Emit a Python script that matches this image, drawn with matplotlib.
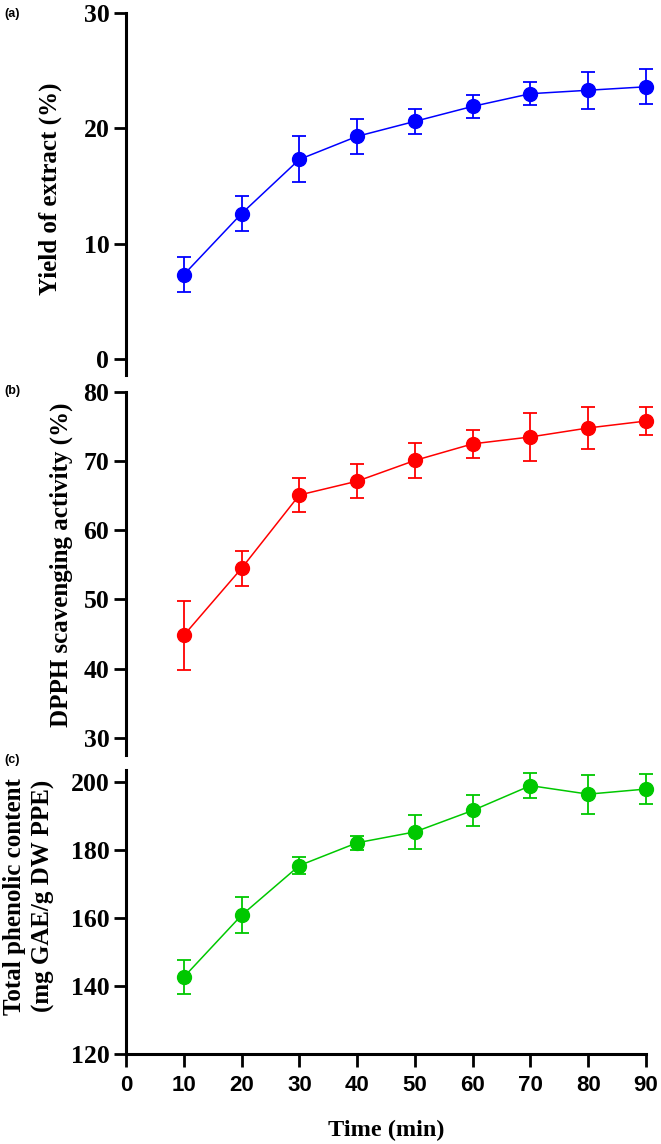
import matplotlib
matplotlib.use("Agg")
import matplotlib.pyplot as plt
import numpy as np

# extraction time (min)
time_min = [10, 20, 30, 40, 50, 60, 70, 80, 90]

# (a) yield of extract (%)
yield_mean = [7.3, 12.6, 17.3, 19.3, 20.6, 21.9, 23.0, 23.3, 23.6]
yield_err = [1.5, 1.5, 2.0, 1.5, 1.1, 1.0, 1.0, 1.6, 1.5]

# (b) DPPH scavenging activity (%)
dpph_mean = [44.8, 54.5, 65.1, 67.1, 70.1, 72.5, 73.5, 74.8, 75.8]
dpph_err = [5.0, 2.5, 2.5, 2.5, 2.5, 2.0, 3.5, 3.0, 2.0]

# (c) total phenolic content (mg GAE/g DW PPE)
tpc_mean = [142.6, 160.8, 175.4, 182.1, 185.3, 191.6, 198.9, 196.4, 197.9]
tpc_err = [5.0, 5.3, 2.4, 2.0, 5.0, 4.6, 3.6, 5.7, 4.3]

x_ticks = [0, 10, 20, 30, 40, 50, 60, 70, 80, 90]

W, H = 661, 1144
fig = plt.figure(figsize=(W / 100, H / 100), dpi=100)

serif = "Liberation Serif"
sans = "Liberation Sans"


def frac(px_left, px_top, px_right, px_bottom):
    return [px_left / W, 1 - px_bottom / H, (px_right - px_left) / W, (px_bottom - px_top) / H]


panels = [
    dict(rect=frac(126, 13, 646, 375), ylim=(-1.4, 30), yticks=[0, 10, 20, 30],
         mean=yield_mean, err=yield_err, color="#0000ff",
         label="Yield of extract (%)", lab_xy=(-0.146, 0.514), tag="(a)", tag_y=14),
    dict(rect=frac(126, 392, 646, 755), ylim=(27.5, 80), yticks=[30, 40, 50, 60, 70, 80],
         mean=dpph_mean, err=dpph_err, color="#ff0000",
         label="DPPH scavenging activity (%)", lab_xy=(-0.125, 0.523), tag="(b)", tag_y=391),
    dict(rect=frac(126, 770, 646, 1054), ylim=(120, 203.5), yticks=[120, 140, 160, 180, 200],
         mean=tpc_mean, err=tpc_err, color="#00c800",
         label="Total phenolic content\n(mg GAE/g DW PPE)", lab_xy=(-0.186, 0.556), tag="(c)", tag_y=760),
]

for i, p in enumerate(panels):
    ax = fig.add_axes(p["rect"])
    ax.errorbar(time_min, p["mean"], yerr=p["err"], color=p["color"], lw=1.1,
                marker="o", markersize=10, elinewidth=1.3, capsize=5, capthick=1.3,
                clip_on=False, zorder=3)
    ax.set_xlim(0, 90)
    ax.set_ylim(*p["ylim"])
    ax.set_yticks(p["yticks"])
    for s in ["top", "right"]:
        ax.spines[s].set_visible(False)
    ax.spines["left"].set_linewidth(2.2)
    ax.tick_params(axis="y", length=9, width=2, pad=3)
    for t in ax.get_yticklabels():
        t.set_fontfamily(serif)
        t.set_fontweight("bold")
        t.set_fontsize(18.5)
    ax.text(p["lab_xy"][0], p["lab_xy"][1], p["label"], transform=ax.transAxes,
            rotation=90, ha="center", va="center", multialignment="center",
            fontfamily=serif, fontweight="bold", fontsize=18, linespacing=1.3)
    fig.text(4 / W, 1 - p["tag_y"] / H, p["tag"], ha="left", va="center",
             fontfamily=sans, fontweight="bold", fontsize=9)

    if i < 2:
        ax.spines["bottom"].set_visible(False)
        ax.set_xticks([])
    else:
        ax.spines["bottom"].set_linewidth(2.2)
        ax.set_xticks(x_ticks)
        ax.tick_params(axis="x", length=9, width=2, pad=6)
        for t in ax.get_xticklabels():
            t.set_fontfamily(sans)
            t.set_fontweight("bold")
            t.set_fontsize(16)
        ax.text(45, -0.27, "Time (min)", transform=ax.get_xaxis_transform(),
                ha="center", va="center", fontfamily=serif, fontweight="bold",
                fontsize=17.5)

fig.savefig("out.png", dpi=100)
